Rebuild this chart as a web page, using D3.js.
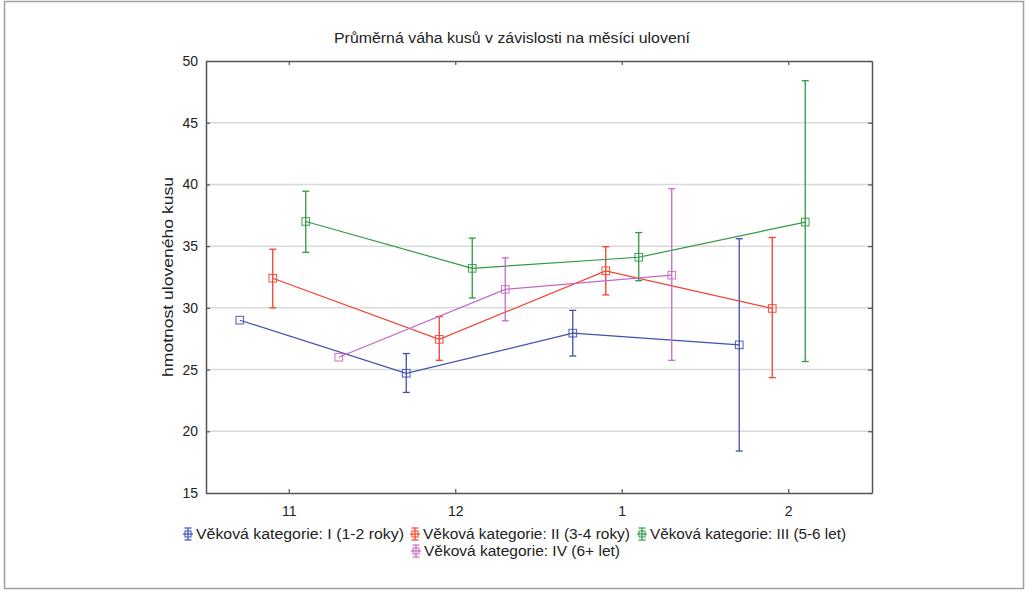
<!DOCTYPE html>
<html>
<head>
<meta charset="utf-8">
<script src="https://cdn.jsdelivr.net/npm/d3@7"></script>
<style>
  html, body { margin: 0; padding: 0; background: #fff; }
  svg { display: block; font-family: "Liberation Sans", Arial, sans-serif; }
</style>
</head>
<body>
<svg id="chart" width="1025" height="595"></svg>
<script>
// Months of catch (x categories)
const months = ["11", "12", "1", "2"];

// Age categories
const seriesNames = [
  "Věková kategorie: I (1-2 roky)",
  "Věková kategorie: II (3-4 roky)",
  "Věková kategorie: III (5-6 let)",
  "Věková kategorie: IV (6+ let)"
];
const seriesColors = ["#3f51b0", "#f2412d", "#2e9a45", "#c468c8"];

// Mean weight per month, with the lower / upper ends of the error bars
const meanI  = [29.0, 24.7, 27.95, 27.0];
const lowI   = [null, 23.15, 26.1, 18.4];
const highI  = [null, 26.3, 29.8, 35.6];

const meanII = [32.4, 27.45, 33.0, 29.95];
const lowII  = [30.0, 25.75, 31.05, 24.35];
const highII = [34.75, 29.3, 34.95, 35.7];

const meanIII = [37.0, 33.2, 34.1, 36.95];
const lowIII  = [34.5, 30.8, 32.2, 25.65];
const highIII = [39.45, 35.65, 36.1, 48.4];

const meanIV = [26.0, 31.5, 32.65, null];
const lowIV  = [null, 28.95, 25.75, null];
const highIV = [null, 34.05, 39.65, null];

const yTicks = [15, 20, 25, 30, 35, 40, 45, 50];

const titleText = "Průměrná váha kusů v závislosti na měsíci ulovení";
const yLabel = "hmotnost uloveného kusu";

const series = [
  { mean: meanI, low: lowI, high: highI },
  { mean: meanII, low: lowII, high: highII },
  { mean: meanIII, low: lowIII, high: highIII },
  { mean: meanIV, low: lowIV, high: highIV }
].map((s, i) => ({ ...s, name: seriesNames[i], color: seriesColors[i], idx: i }));

const svg = d3.select("#chart");
const plot = { left: 206, right: 872, top: 61, bottom: 493 };

// outer frame
svg.append("rect")
  .attr("x", 4.5).attr("y", 1.5)
  .attr("width", 1019).attr("height", 587)
  .attr("fill", "#fff").attr("stroke", "#a0a0a0").attr("stroke-width", 1.5);

// title
svg.append("text")
  .attr("x", 512).attr("y", 43)
  .attr("text-anchor", "middle")
  .attr("font-size", 14).attr("fill", "#222")
  .attr("textLength", 356).attr("lengthAdjust", "spacingAndGlyphs")
  .text(titleText);

const x = d3.scaleBand().domain(months).range([plot.left, plot.right]).padding(0);
const xInner = d3.scalePoint().domain(d3.range(series.length)).range([-49.5, 49.5]);
const y = d3.scaleLinear().domain([15, 50]).range([plot.bottom, plot.top]);

const px = (m, s) => x(m) + x.bandwidth() / 2 + xInner(s);

// grid
svg.append("g")
  .selectAll("line")
  .data(yTicks.filter(t => t > 15 && t < 50))
  .join("line")
  .attr("x1", plot.left).attr("x2", plot.right)
  .attr("y1", d => y(d)).attr("y2", d => y(d))
  .attr("stroke", "#d9d9d9").attr("stroke-width", 1.5);

// axes
const axisLeft = d3.axisLeft(y).tickValues(yTicks).tickSizeInner(-4).tickSizeOuter(0).tickPadding(8);
const axisRight = d3.axisRight(y).tickValues(yTicks).tickSizeInner(-4).tickSizeOuter(0).tickFormat("");
const axisBottom = d3.axisBottom(x).tickSizeInner(-4).tickSizeOuter(0).tickPadding(13);
const axisTop = d3.axisTop(x).tickSizeInner(-4).tickSizeOuter(0).tickFormat("");

function styleAxis(g) {
  g.select(".domain").attr("stroke", "#555").attr("stroke-width", 1.5);
  g.selectAll(".tick line").attr("stroke", "#555").attr("stroke-width", 1.2);
  g.selectAll(".tick text").attr("font-size", 14).attr("fill", "#222")
    .attr("font-family", "'Liberation Sans', Arial, sans-serif");
}

svg.append("g").attr("transform", `translate(${plot.right},0)`).call(axisRight).call(styleAxis);
svg.append("g").attr("transform", `translate(0,${plot.top})`).call(axisTop).call(styleAxis);
svg.append("g").attr("transform", `translate(${plot.left},0)`).call(axisLeft).call(styleAxis);
svg.append("g").attr("transform", `translate(0,${plot.bottom})`).call(axisBottom).call(styleAxis);

// y label
svg.append("text")
  .attr("transform", `translate(173,277) rotate(-90)`)
  .attr("text-anchor", "middle")
  .attr("font-size", 14).attr("fill", "#222")
  .attr("textLength", 200).attr("lengthAdjust", "spacingAndGlyphs")
  .text(yLabel);

// series
const line = d3.line()
  .defined(d => d.v != null)
  .x(d => d.x).y(d => y(d.v));

const capW = 3.5, mk = 3.8;

series.forEach(s => {
  const pts = months.map((m, i) => ({ x: px(m, s.idx), v: s.mean[i], lo: s.low[i], hi: s.high[i] }))
    .filter(d => d.v != null);
  const g = svg.append("g").attr("stroke", s.color).attr("fill", "none");

  g.append("path").attr("d", line(pts)).attr("stroke-width", 1.2);

  const eb = pts.filter(d => d.lo != null && d.hi != null);
  g.selectAll("line.bar").data(eb).join("line")
    .attr("x1", d => d.x).attr("x2", d => d.x)
    .attr("y1", d => y(d.hi)).attr("y2", d => y(d.lo))
    .attr("stroke-width", 1.3);
  g.selectAll("line.capHi").data(eb).join("line")
    .attr("x1", d => d.x - capW).attr("x2", d => d.x + capW)
    .attr("y1", d => y(d.hi)).attr("y2", d => y(d.hi))
    .attr("stroke-width", 1.3);
  g.selectAll("line.capLo").data(eb).join("line")
    .attr("x1", d => d.x - capW).attr("x2", d => d.x + capW)
    .attr("y1", d => y(d.lo)).attr("y2", d => y(d.lo))
    .attr("stroke-width", 1.3);

  g.selectAll("rect").data(pts).join("rect")
    .attr("x", d => d.x - mk).attr("y", d => y(d.v) - mk)
    .attr("width", mk * 2).attr("height", mk * 2)
    .attr("stroke-width", 1.1).attr("stroke-opacity", 0.85);
});

// legend
const legendRows = [
  [{ s: 0, x: 183, w: 208 }, { s: 1, x: 410, w: 207 }, { s: 2, x: 637, w: 196 }],
  [{ s: 3, x: 411, w: 196 }]
];
const rowY = [534, 551];
legendRows.forEach((row, r) => {
  row.forEach(item => {
    const s = series[item.s];
    const g = svg.append("g").attr("transform", `translate(${item.x},${rowY[r]})`);
    const cx = 5;
    g.append("line").attr("x1", cx).attr("x2", cx).attr("y1", -6).attr("y2", 6)
      .attr("stroke", s.color).attr("stroke-width", 1.2);
    g.append("line").attr("x1", cx - 3.5).attr("x2", cx + 3.5).attr("y1", -6).attr("y2", -6)
      .attr("stroke", s.color).attr("stroke-width", 1.2);
    g.append("line").attr("x1", cx - 3.5).attr("x2", cx + 3.5).attr("y1", 6).attr("y2", 6)
      .attr("stroke", s.color).attr("stroke-width", 1.2);
    g.append("line").attr("x1", 0).attr("x2", 10).attr("y1", 0).attr("y2", 0)
      .attr("stroke", s.color).attr("stroke-width", 1.2);
    g.append("rect").attr("x", cx - 3).attr("y", -3).attr("width", 6).attr("height", 6)
      .attr("fill", "none").attr("stroke", s.color).attr("stroke-width", 1);
    g.append("text").attr("x", 13).attr("y", 5)
      .attr("font-size", 14).attr("fill", "#222")
      .attr("textLength", item.w).attr("lengthAdjust", "spacingAndGlyphs")
      .text(s.name);
  });
});
</script>
</body>
</html>
